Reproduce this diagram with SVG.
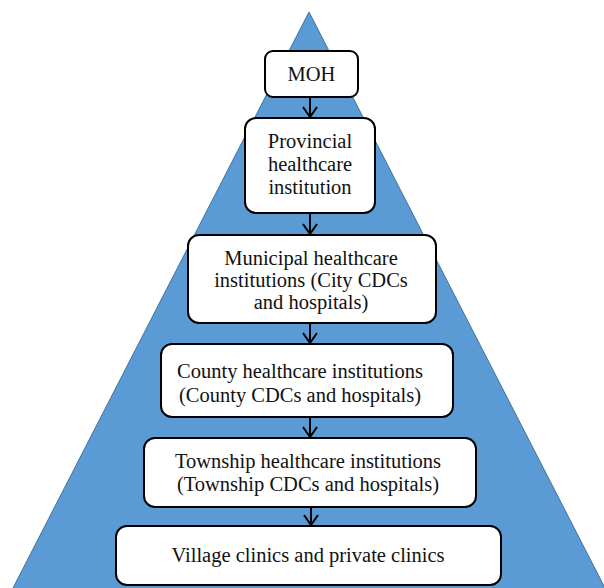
<svg xmlns="http://www.w3.org/2000/svg" width="604" height="588" viewBox="0 0 604 588">
<style>
.box{fill:#ffffff;stroke:#000000;stroke-width:2}
.t{font-family:"Liberation Serif","Times New Roman",serif;font-size:20.5px;fill:#111111;text-anchor:middle}
.c{stroke:#000000;stroke-width:2;fill:none}
</style>
<defs>
<marker id="ah" viewBox="0 0 12 16" refX="11" refY="8" markerWidth="12" markerHeight="16" markerUnits="userSpaceOnUse" orient="auto">
<path d="M1,1 L11,8 L1,15" fill="none" stroke="#000" stroke-width="2"/>
</marker>
</defs>
<rect width="604" height="588" fill="#ffffff"/>
<polygon id="pyramid" points="309,12 12,590 606,590" fill="#5b9bd5" stroke="#41719c" stroke-width="1"/>
<g id="connectors">
<path class="c" d="M310,97 L310,117" marker-end="url(#ah)"/>
<path class="c" d="M310,213 L310,234" marker-end="url(#ah)"/>
<path class="c" d="M310,323 L310,343" marker-end="url(#ah)"/>
<path class="c" d="M310,417 L310,437" marker-end="url(#ah)"/>
<path class="c" d="M311,507 L311,525" marker-end="url(#ah)"/>
</g>
<g id="moh">
<rect class="box" x="265" y="51" width="93" height="46" rx="8"/>
<text class="t" x="311.5" y="81">MOH</text>
</g>
<g id="provincial">
<rect class="box" x="245" y="118" width="130" height="95" rx="11"/>
<text class="t" x="310" y="148">Provincial</text>
<text class="t" x="310" y="171">healthcare</text>
<text class="t" x="310" y="194">institution</text>
</g>
<g id="municipal">
<rect class="box" x="188" y="235" width="248" height="88" rx="11"/>
<text class="t" x="311" y="265">Municipal healthcare</text>
<text class="t" x="311" y="287">institutions (City CDCs</text>
<text class="t" x="311" y="309">and hospitals)</text>
</g>
<g id="county">
<rect class="box" x="161" y="344" width="292" height="73" rx="11"/>
<text class="t" x="300" y="378">County healthcare institutions</text>
<text class="t" x="300" y="402">(County CDCs and hospitals)</text>
</g>
<g id="township">
<rect class="box" x="144" y="438" width="332" height="69" rx="11"/>
<text class="t" x="308" y="468">Township healthcare institutions</text>
<text class="t" x="308" y="491">(Township CDCs and hospitals)</text>
</g>
<g id="village">
<rect class="box" x="116" y="526" width="385" height="59" rx="11"/>
<text class="t" x="308" y="562">Village clinics and private clinics</text>
</g>
</svg>
